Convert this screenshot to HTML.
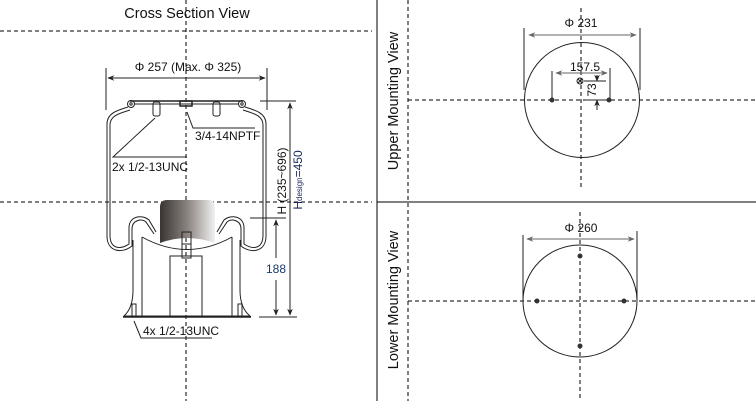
<!DOCTYPE html>
<html><head><meta charset="utf-8"><style>
html,body{margin:0;padding:0;background:#fff;}
svg{display:block;font-family:"Liberation Sans",Arial,sans-serif;}
</style></head><body>
<svg width="756" height="401" viewBox="0 0 756 401" xmlns="http://www.w3.org/2000/svg">
<defs>
<linearGradient id="pg" x1="0" x2="1" y1="0" y2="0">
<stop offset="0" stop-color="#3a3532"/><stop offset="0.5" stop-color="#8a8380"/><stop offset="1" stop-color="#f2f2f2"/>
</linearGradient>
<marker id="ar" viewBox="0 0 10 10" refX="9" refY="5" markerWidth="7" markerHeight="7" orient="auto-start-reverse"><path d="M0,1 L10,5 L0,9 L3,5z" fill="#222"/></marker>
<marker id="ag" viewBox="0 0 10 10" refX="9" refY="5" markerWidth="7" markerHeight="7" orient="auto-start-reverse"><path d="M0,1 L10,5 L0,9 L3,5z" fill="#666"/></marker>
</defs>
<!-- frame lines -->
<line x1="377" y1="0" x2="377" y2="401" stroke="#000" stroke-width="1"/>
<line x1="377" y1="202" x2="756" y2="202" stroke="#000" stroke-width="1"/>
<g stroke="#000" stroke-width="1" stroke-dasharray="4,3" fill="none">
<line x1="0" y1="31" x2="372" y2="31"/>
<line x1="0" y1="202" x2="372" y2="202"/>
<line x1="186" y1="0" x2="186" y2="401"/>
<line x1="408" y1="0" x2="408" y2="401"/>
<line x1="408" y1="100" x2="756" y2="100"/>
<line x1="408" y1="301" x2="756" y2="301"/>
<line x1="581" y1="8" x2="581" y2="190"/>
<line x1="580" y1="212" x2="580" y2="401"/>
</g>
<text x="187" y="18" font-size="14.5" text-anchor="middle" fill="#111">Cross Section View</text>
<text transform="translate(398,101) rotate(-90)" font-size="14.5" text-anchor="middle" fill="#111">Upper Mounting View</text>
<text transform="translate(398,300) rotate(-90)" font-size="14.5" text-anchor="middle" fill="#111">Lower Mounting View</text>

<!-- cross section -->
<g fill="none" stroke="#222" stroke-width="1">
<line x1="106" y1="68" x2="106" y2="110"/>
<line x1="267" y1="68" x2="267" y2="110"/>
<line x1="108" y1="78" x2="265" y2="78" marker-start="url(#ar)" marker-end="url(#ar)"/>
<!-- top plate -->
<line x1="130" y1="101" x2="243" y2="101" stroke-width="1.6"/>
<line x1="134" y1="104" x2="239" y2="104"/>
<circle cx="131" cy="104" r="3.5"/><circle cx="131" cy="104" r="1.2"/>
<circle cx="242" cy="104" r="3.5"/><circle cx="242" cy="104" r="1.2"/>
<rect x="153" y="102" width="7" height="14" rx="2"/>
<rect x="213" y="102" width="7" height="14" rx="2"/>
<rect x="180" y="101" width="12" height="5" stroke-width="1.5"/>
<!-- bellows -->
<path d="M128,107 C118,110 107,113 107,124 L107,236 C107,252 122,254 132,246 L132,229 C132,220 142,218 146,222 L154,234"/>
<path d="M130,110 C121,113 110,115 110,125 L110,235 C110,249 120,250 129,244 L129,228 C129,216 142,214 149,220 L156,232"/>
<path d="M245,107 C255,110 266,113 266,124 L266,236 C266,252 251,254 241,246 L241,229 C241,220 231,218 227,222 L219,234"/>
<path d="M243,110 C252,113 263,115 263,125 L263,235 C263,249 253,250 244,244 L244,228 C244,216 231,214 224,220 L217,232"/>
</g>
<!-- piston -->
<path d="M160,243 L160,207 Q160,200 167,200 L208,200 Q215,200 215,207 L215,243 Q187,233 160,243z" fill="url(#pg)"/>
<g fill="none" stroke="#222" stroke-width="1">
<rect x="182" y="232" width="9" height="12"/>
<rect x="182" y="244" width="9" height="14"/>
<path d="M142,237 L142,317 M232,237 L232,317 M142,237 Q187,262 232,237"/>
<path d="M133,240 L133,290 Q133,308 124,316 L250,316 Q240,308 240,290 L240,240"/>
<line x1="123" y1="317" x2="251" y2="317" stroke-width="1.4"/>
<rect x="170" y="256" width="32" height="61"/>
<rect x="132" y="304" width="4" height="12"/>
<rect x="238" y="304" width="4" height="12"/>
<!-- leaders -->
<polyline points="187,112 193,128 255,128"/>
<polyline points="155,118 113,157 187,157"/>
<polyline points="134,321 141,338 212,338"/>
<!-- right dims -->
<line x1="260" y1="101" x2="296" y2="101"/>
<line x1="250" y1="218" x2="286" y2="218"/>
<line x1="259" y1="317" x2="297" y2="317"/>
<line x1="290" y1="103" x2="290" y2="315" marker-start="url(#ar)" marker-end="url(#ar)"/>
<line x1="276" y1="220" x2="276" y2="258" marker-start="url(#ar)"/>
<line x1="276" y1="280" x2="276" y2="315" marker-end="url(#ar)"/>
</g>
<g font-size="12" fill="#111">
<text x="188" y="71" text-anchor="middle">Φ 257 (Max. Φ 325)</text>
<text x="195" y="140">3/4-14NPTF</text>
<text x="112" y="171">2x 1/2-13UNC</text>
<text x="143" y="335">4x 1/2-13UNC</text>
<text x="276" y="273" text-anchor="middle" fill="#1a3a70">188</text>
<text transform="translate(286,181) rotate(-90)" text-anchor="middle">H (235~696)</text>
<text transform="translate(302,180) rotate(-90)" text-anchor="middle" fill="#1a2a60">H<tspan font-size="8">design</tspan>=450</text>
</g>

<!-- upper mounting -->
<g fill="none" stroke="#222" stroke-width="1">
<ellipse cx="582" cy="100" rx="57.5" ry="57.5"/>
<line x1="524" y1="28" x2="524" y2="90"/>
<line x1="640" y1="28" x2="640" y2="90"/>
<line x1="529" y1="35" x2="636" y2="35" stroke="#666" marker-start="url(#ag)" marker-end="url(#ag)"/>
<line x1="552" y1="71" x2="552" y2="100"/>
<line x1="610" y1="68" x2="610" y2="100"/>
<line x1="556" y1="73" x2="607" y2="73" stroke="#666" marker-start="url(#ag)" marker-end="url(#ag)"/>
<line x1="584" y1="81" x2="606" y2="81"/>
<line x1="585" y1="100" x2="606" y2="100"/>
<line x1="597" y1="75" x2="597" y2="81" marker-end="url(#ar)"/>
<line x1="597" y1="110" x2="597" y2="100" marker-end="url(#ar)"/>
<circle cx="580" cy="81" r="3"/><path d="M578,79 l4,4 m0,-4 l-4,4"/>
</g>
<circle cx="552" cy="100" r="2.5" fill="#333"/><circle cx="609" cy="100" r="2.5" fill="#333"/>
<text x="581" y="27" font-size="12" text-anchor="middle" fill="#111">Φ 231</text>
<text x="585" y="71" font-size="12" text-anchor="middle" fill="#111">157.5</text>
<text transform="translate(596,90) rotate(-90)" font-size="12" text-anchor="middle" fill="#111">73</text>

<!-- lower mounting -->
<g fill="none" stroke="#222" stroke-width="1">
<ellipse cx="580" cy="301" rx="57" ry="56"/>
<line x1="523" y1="235" x2="523" y2="300"/>
<line x1="637" y1="231" x2="637" y2="300"/>
<line x1="527" y1="239" x2="634" y2="239" stroke="#666" marker-start="url(#ag)" marker-end="url(#ag)"/>
</g>
<g fill="#333"><circle cx="580" cy="256" r="2.5"/><circle cx="537" cy="301" r="2.5"/><circle cx="624" cy="301" r="2.5"/><circle cx="580" cy="346" r="2.5"/></g>
<text x="581" y="232" font-size="12" text-anchor="middle" fill="#111">Φ 260</text>
</svg>
</body></html>
